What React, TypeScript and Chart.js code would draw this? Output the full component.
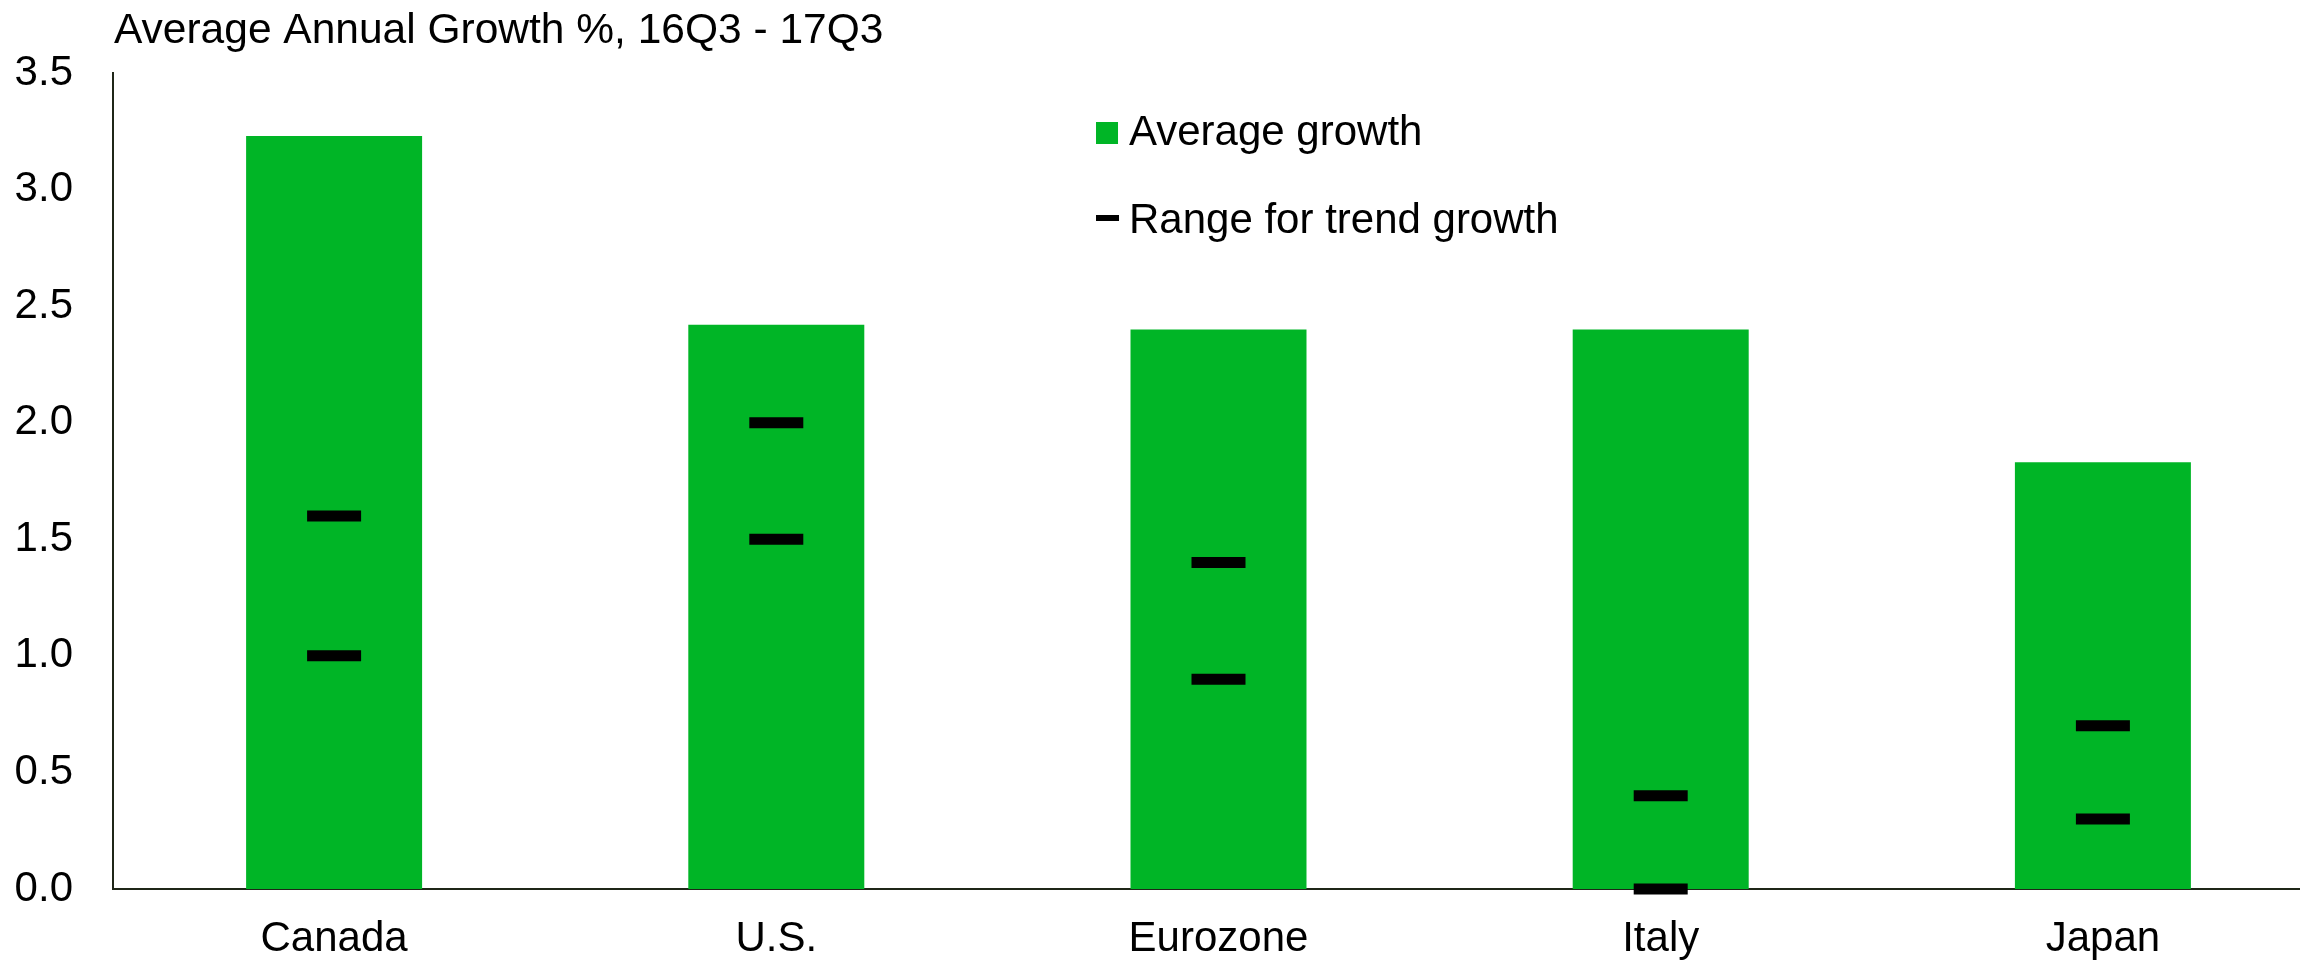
import React, { useEffect, useRef } from "react";
import { Chart, registerables } from "chart.js";

Chart.register(...registerables);

const categories = ["Canada", "U.S.", "Eurozone", "Italy", "Japan"];
const averageGrowth = [3.23, 2.42, 2.4, 2.4, 1.83];
const trendHigh = [1.6, 2.0, 1.4, 0.4, 0.7];
const trendLow = [1.0, 1.5, 0.9, 0.0, 0.3];
const yMin = 0;
const yMax = 3.5;
const yStep = 0.5;
const titleText = "Average Annual Growth %, 16Q3 - 17Q3";
const legendLabels = ["Average growth", "Range for trend growth"];

const GREEN = "#00b526";
const FONT_FAMILY = '"Liberation Sans", Arial, Helvetica, sans-serif';
const CANVAS_W = 2324;
const VIEW_W = 2300;
const VIEW_H = 962;

const overlayPlugin = {
  id: "overlay",
  afterDraw(chart: any) {
    const { ctx, chartArea } = chart;
    ctx.save();
    ctx.font = `42.5px ${FONT_FAMILY}`;
    ctx.fillStyle = "#000";
    ctx.textBaseline = "alphabetic";
    ctx.textAlign = "left";
    ctx.fillText(titleText, chartArea.left + 1, 43);

    ctx.font = `42px ${FONT_FAMILY}`;
    const lx = chartArea.left + 0.4446 * (chartArea.right - chartArea.left);
    ctx.fillStyle = GREEN;
    ctx.fillRect(lx, 122, 22, 22);
    ctx.fillStyle = "#000";
    ctx.fillText(legendLabels[0], lx + 33, 145);
    ctx.fillRect(lx, 215, 23, 6);
    ctx.fillText(legendLabels[1], lx + 33, 233);
    ctx.restore();
  },
};

export default function App() {
  const ref = useRef<HTMLCanvasElement | null>(null);
  useEffect(() => {
    if (!ref.current) return;
    const pointOpts = {
      type: "line" as const,
      showLine: false,
      pointStyle: "line",
      pointRadius: 27,
      pointHoverRadius: 27,
      pointBorderWidth: 11,
      borderWidth: 11,
      borderColor: "#000",
      backgroundColor: "#000",
      pointBorderColor: "#000",
      clip: false as any,
      order: 0,
    };
    const chart = new Chart(ref.current, {
      type: "bar",
      data: {
        labels: categories,
        datasets: [
          { ...pointOpts, label: "Trend high", data: trendHigh } as any,
          { ...pointOpts, label: "Trend low", data: trendLow } as any,
          {
            type: "bar",
            label: legendLabels[0],
            data: averageGrowth,
            backgroundColor: GREEN,
            borderWidth: 0,
            barPercentage: 1,
            categoryPercentage: 0.398,
            order: 1,
          },
        ],
      },
      options: {
        responsive: false,
        animation: false,
        maintainAspectRatio: false,
        layout: { autoPadding: false, padding: { top: 73, left: 0, right: 0, bottom: 0 } },
        plugins: {
          legend: { display: false },
          title: { display: false },
          tooltip: { enabled: false },
        },
        scales: {
          x: {
            grid: { display: false, drawTicks: false },
            border: { display: true, color: "#1f2618", width: 2 },
            ticks: {
              color: "#000",
              font: { size: 42, family: FONT_FAMILY },
              padding: 25,
              maxRotation: 0,
            },
            afterFit(scale: any) {
              scale.height = 73;
            },
          },
          y: {
            min: yMin,
            max: yMax,
            grid: { display: false, drawTicks: false },
            border: { display: true, color: "#1f2618", width: 2 },
            ticks: {
              stepSize: yStep,
              color: "#000",
              font: { size: 42, family: FONT_FAMILY },
              padding: 40,
              callback: (v: any) => Number(v).toFixed(1),
            },
            afterFit(scale: any) {
              scale.width = 113;
            },
          },
        },
      } as any,
      plugins: [overlayPlugin],
    });
    return () => chart.destroy();
  }, []);
  return (
    <div
      style={{
        position: "absolute",
        left: 0,
        top: 0,
        width: VIEW_W,
        height: VIEW_H,
        overflow: "hidden",
        background: "#fff",
      }}
    >
      <canvas
        ref={ref}
        width={CANVAS_W}
        height={VIEW_H}
        style={{ width: CANVAS_W, height: VIEW_H, display: "block" }}
      />
    </div>
  );
}
